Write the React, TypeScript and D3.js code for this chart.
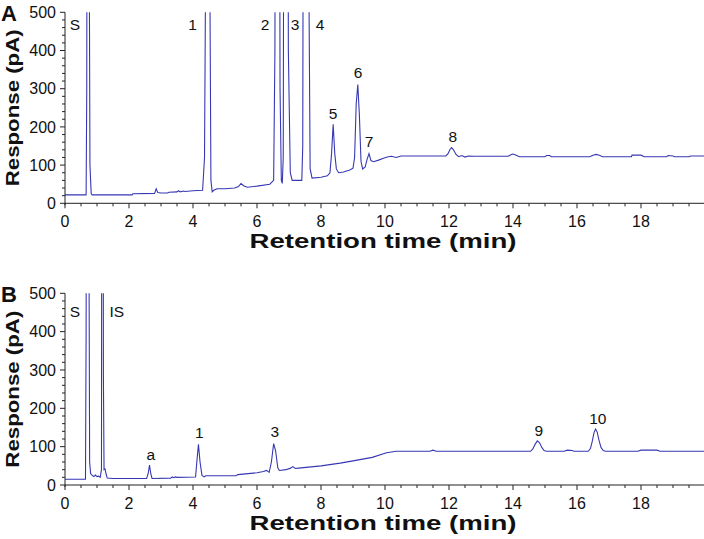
import React from "react";
import * as d3 from "d3";

// Retention time (min), response (pA)
const traceA: [number, number][] = [
  [0, 22], [0.66, 22], [0.68, 300], [0.72, 3000], [0.76, 600], [0.78, 100], [0.8, 60], [0.82, 25], [0.85, 22],
  [2.1, 22], [2.12, 25], [2.8, 26], [2.85, 38], [2.9, 28], [3.0, 27], [3.2, 27], [3.25, 29], [3.5, 30], [3.55, 33],
  [3.6, 30], [3.7, 32], [3.75, 31], [4.0, 33], [4.3, 34], [4.36, 120], [4.4, 700], [4.46, 3000], [4.52, 700],
  [4.56, 60], [4.6, 30], [4.65, 34], [4.75, 38], [5.0, 38], [5.3, 40], [5.42, 44], [5.5, 52], [5.58, 46], [5.7, 42],
  [6.0, 45], [6.4, 50], [6.52, 60], [6.56, 400], [6.6, 2000], [6.64, 800], [6.68, 2000], [6.72, 300], [6.76, 60],
  [6.79, 52], [6.82, 120], [6.86, 2000], [6.92, 3000], [6.98, 400], [7.04, 80], [7.1, 60], [7.4, 60], [7.43, 150],
  [7.48, 2500], [7.55, 3000], [7.62, 600], [7.66, 90], [7.72, 66], [8.0, 68], [8.2, 72], [8.28, 80], [8.33, 130],
  [8.38, 207], [8.43, 130], [8.48, 90], [8.55, 80], [8.7, 82], [8.9, 87], [9.0, 92], [9.05, 120], [9.1, 260],
  [9.15, 311], [9.2, 230], [9.25, 110], [9.3, 90], [9.38, 95], [9.44, 115], [9.5, 130], [9.56, 112], [9.64, 109],
  [9.8, 113], [9.95, 118], [10.1, 122], [10.2, 123], [10.35, 120], [10.5, 124], [11.9, 124], [11.97, 130],
  [12.03, 141], [12.08, 146], [12.14, 140], [12.22, 128], [12.3, 122], [12.4, 125], [12.5, 121], [12.6, 124],
  [12.8, 123], [13.85, 123], [13.95, 128], [14.0, 129], [14.1, 126], [14.2, 122], [15.0, 122], [15.05, 125],
  [15.15, 125], [15.2, 122], [16.4, 122], [16.5, 126], [16.6, 128], [16.7, 126], [16.8, 122], [17.7, 122],
  [17.72, 126], [18.0, 126], [18.1, 122], [18.8, 122], [18.85, 125], [19.0, 124], [19.05, 122], [19.5, 122],
  [19.55, 124], [20, 124],
];

const traceB: [number, number][] = [
  [0, 15], [0.64, 15], [0.66, 400], [0.7, 3000], [0.75, 600], [0.77, 60], [0.8, 30], [0.85, 25], [0.9, 22],
  [0.95, 26], [1.0, 22], [1.05, 23], [1.1, 20], [1.14, 40], [1.17, 3000], [1.2, 285], [1.22, 40], [1.25, 42],
  [1.28, 30], [1.32, 18], [1.5, 17], [2.55, 17], [2.6, 30], [2.64, 52], [2.68, 30], [2.72, 17], [3.3, 18],
  [3.35, 21], [3.4, 19], [3.45, 21], [3.5, 20], [4.08, 21], [4.13, 70], [4.17, 106], [4.22, 60], [4.28, 25],
  [4.35, 21], [4.4, 24], [5.35, 24], [5.4, 27], [6.0, 32], [6.2, 35], [6.3, 38], [6.38, 33], [6.45, 60],
  [6.52, 108], [6.58, 90], [6.65, 45], [6.7, 38], [6.9, 40], [7.05, 44], [7.12, 48], [7.2, 43], [7.3, 44],
  [8.0, 50], [8.6, 57], [9.0, 63], [9.6, 72], [10.05, 84], [10.35, 88], [11.4, 88], [11.5, 91], [11.6, 88],
  [14.55, 88], [14.62, 94], [14.69, 106], [14.76, 115], [14.83, 110], [14.9, 98], [14.97, 90], [15.05, 88],
  [15.6, 88], [15.7, 91], [15.85, 90], [15.9, 88], [16.35, 88], [16.42, 95], [16.48, 115], [16.53, 136],
  [16.58, 146], [16.63, 138], [16.69, 116], [16.75, 98], [16.82, 90], [16.9, 88], [17.9, 88],
  [18.0, 91], [18.5, 91], [18.6, 88], [20, 88],
];

// peak labels: text, time, response (label centre)
const labelsA: [string, number, number][] = [
  ["S", 0.31, 467], ["1", 3.99, 467], ["2", 6.25, 467], ["3", 7.19, 467], ["4", 7.97, 467],
  ["5", 8.38, 236], ["6", 9.16, 342], ["7", 9.5, 161], ["8", 12.12, 176],
];
const labelsB: [string, number, number][] = [
  ["S", 0.31, 454], ["IS", 1.62, 454], ["a", 2.68, 81], ["1", 4.2, 136], ["3", 6.56, 139],
  ["9", 14.81, 143], ["10", 16.65, 174],
];

const xMajor = [0, 2, 4, 6, 8, 10, 12, 14, 16, 18];
const yMajor = [0, 100, 200, 300, 400, 500];

const LINE = "#3737b4";
const AXIS = "#222";
const FONT = "Liberation Sans, Arial, sans-serif";

function Panel({ id, letter, data, labels, top, bottom }: {
  id: string; letter: string; data: [number, number][]; labels: [string, number, number][]; top: number; bottom: number;
}) {
  const x = d3.scaleLinear().domain([0, 20]).range([65, 705]);
  const y = d3.scaleLinear().domain([0, 500]).range([bottom, top]);
  const line = d3.line<[number, number]>().x((d) => x(d[0])).y((d) => y(d[1]));
  const xMinor = d3.range(0, 20, 0.5).filter((v) => !xMajor.includes(v));
  const yMinor = d3.range(0, 500, 20).filter((v) => !yMajor.includes(v));
  return (
    <g>
      <defs>
        <clipPath id={id}>
          <rect x={65} y={top} width={640} height={bottom - top} />
        </clipPath>
      </defs>
      <path d={line(data) || ""} fill="none" stroke={LINE} strokeWidth={1.1} clipPath={`url(#${id})`} />
      <line x1={65} x2={704} y1={bottom} y2={bottom} stroke={AXIS} strokeWidth={1} />
      <line x1={65} x2={65} y1={top} y2={bottom + 2} stroke={AXIS} strokeWidth={1} />
      {xMajor.map((v) => (
        <g key={"xm" + v}>
          <line x1={x(v)} x2={x(v)} y1={bottom} y2={bottom + 5} stroke={AXIS} />
          <text x={x(v)} y={bottom + 24} textAnchor="middle" fontSize={16} fontFamily={FONT} fill="#111">{v}</text>
        </g>
      ))}
      {xMinor.map((v) => (
        <line key={"xn" + v} x1={x(v)} x2={x(v)} y1={bottom} y2={bottom + 3} stroke={AXIS} />
      ))}
      {yMajor.map((v) => (
        <g key={"ym" + v}>
          <line x1={60} x2={65} y1={y(v)} y2={y(v)} stroke={AXIS} />
          <text x={56} y={y(v)} dy="0.36em" textAnchor="end" fontSize={16} fontFamily={FONT} fill="#111">{v}</text>
        </g>
      ))}
      {yMinor.map((v) => (
        <line key={"yn" + v} x1={62} x2={65} y1={y(v)} y2={y(v)} stroke={AXIS} />
      ))}
      {labels.map(([t, tx, vy]) => (
        <text key={t} x={x(tx)} y={y(vy)} dy="0.36em" textAnchor="middle" fontSize={15.5} fontFamily={FONT} fill="#111">{t}</text>
      ))}
      <text x={383} y={bottom + 45} textAnchor="middle" fontSize={21} fontWeight="bold" fontFamily={FONT}
        textLength={267} lengthAdjust="spacingAndGlyphs" fill="#111">Retention time (min)</text>
      <text transform={`translate(${19},${(top + bottom) / 2}) rotate(-90)`} textAnchor="middle" fontSize={19}
        fontWeight="bold" fontFamily={FONT} textLength={157} lengthAdjust="spacingAndGlyphs" fill="#111">Response (pA)</text>
      <text x={1} y={top + 9} fontSize={22} fontWeight="bold" fontFamily={FONT} fill="#111">{letter}</text>
    </g>
  );
}

export default function App() {
  return (
    <svg width={704} height={539} style={{ position: "absolute", left: 0, top: 0, background: "#fff" }}>
      <rect width={704} height={539} fill="#fff" />
      <Panel id="clipA" letter="A" data={traceA} labels={labelsA} top={12.3} bottom={203.3} />
      <Panel id="clipB" letter="B" data={traceB} labels={labelsB} top={293.3} bottom={485} />
    </svg>
  );
}
